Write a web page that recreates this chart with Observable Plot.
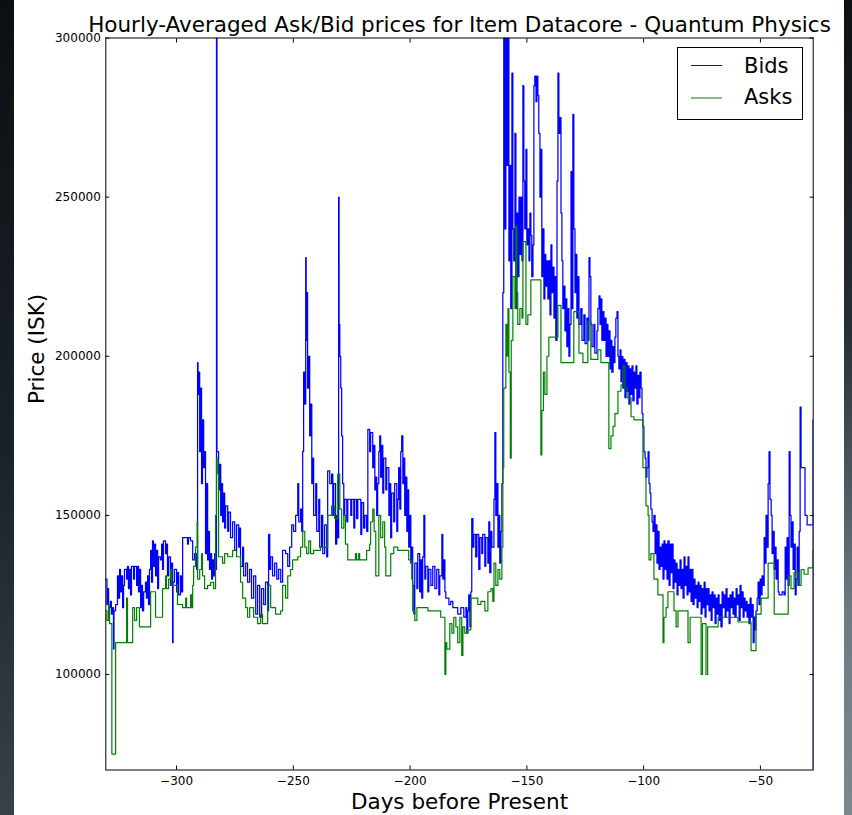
<!DOCTYPE html>
<html><head><meta charset="utf-8">
<script src="https://cdn.jsdelivr.net/npm/d3@7"></script>
<script src="https://cdn.jsdelivr.net/npm/@observablehq/plot@0.6"></script>
<style>
html,body{margin:0;padding:0;width:852px;height:815px;overflow:hidden;background:#101418;font-family:"DejaVu Sans",sans-serif;}
#bgL{position:absolute;left:0;top:0;width:14px;height:815px;background:linear-gradient(#0b0f13,#1a2228 55%,#36414a);}
#bgR{position:absolute;left:844px;top:0;width:8px;height:815px;background:linear-gradient(#0d1115,#262e35 40%,#6e7a82 75%,#7d878e);}
#fig{position:absolute;left:14px;top:0;width:830px;height:815px;background:#fff;}
#chart{position:absolute;left:0;top:0;}
#legend{position:absolute;left:677px;top:47px;}
</style></head>
<body>
<div id="bgL"></div><div id="bgR"></div><div id="fig"></div>
<div id="chart"></div>
<svg id="legend" width="127" height="74"></svg>
<script>
const titleText = "Hourly-Averaged Ask/Bid prices for Item Datacore - Quantum Physics";
const xLabel = "Days before Present";
const yLabel = "Price (ISK)";
const seriesNames = ["Bids", "Asks"];
const seriesColors = ["#0000ff", "#008000"];
const xTicks = [-300, -250, -200, -150, -100, -50];
const yTicks = [100000, 150000, 200000, 250000, 300000];
const xDomain = [-330.3, -27.4];
const yDomain = [70000, 300000];

// [day, price]
const bids = [
[-330.2,130000],[-329.8,122000],[-329.6,127000],[-329.1,121000],[-328.3,123000],[-327.9,119000],[-327.4,121000],[-327.0,108000],[-326.8,120000],[-326.1,122000],[-325.3,131000],[-324.9,124000],[-324.4,133000],[-324.0,126000],[-323.6,131000],[-323.1,121000],[-322.7,128000],[-322.3,133000],[-321.4,130000],[-321.0,134000],[-320.6,127000],[-320.1,133000],[-319.7,125000],[-319.3,134000],[-318.4,130000],[-318.0,134000],[-317.1,128000],[-316.7,134000],[-316.3,126000],[-315.9,133000],[-315.4,121000],[-315.0,128000],[-314.6,120000],[-314.1,126000],[-313.3,129000],[-312.9,124000],[-312.4,131000],[-312.0,122000],[-311.6,133000],[-311.1,139000],[-310.7,129000],[-310.3,142000],[-309.9,134000],[-309.4,141000],[-309.0,131000],[-308.6,139000],[-308.1,127000],[-307.7,137000],[-306.9,136000],[-306.4,141000],[-306.0,133000],[-305.6,142000],[-304.7,138000],[-304.3,141000],[-303.9,131000],[-303.4,137000],[-302.6,128000],[-302.1,135000],[-301.7,110000],[-301.5,129000],[-300.9,133000],
[-300.0,126000],[-299.6,132000],[-299.1,125000],[-298.3,131000],[-297.9,126000],[-297.4,143000],[-296.1,143000],[-295.3,141000],[-294.9,143000],[-294.0,142000],[-293.1,136000],[-292.3,138000],[-291.4,133000],[-291.0,198000],[-290.8,188000],[-290.6,195000],[-290.1,170000],[-289.7,190000],[-289.3,160000],[-288.9,180000],[-288.4,165000],[-288.0,170000],[-287.6,138000],[-287.1,160000],[-286.7,136000],[-286.3,145000],[-285.9,133000],[-285.4,138000],[-285.0,130000],[-284.6,136000],[-284.1,131000],[-283.7,138000],[-283.3,133000],[-282.9,300000],[-282.7,170000],[-282.0,158000],[-281.6,166000],[-281.1,150000],[-280.7,160000],[-280.3,148000],[-279.9,157000],[-279.4,146000],[-279.0,153000],[-278.1,145000],[-277.7,151000],[-276.9,143000],[-276.0,148000],[-275.1,139000],[-274.3,147000],[-273.4,140000],[-273.0,146000],[-272.6,134000],[-271.7,140000],[-271.3,131000],[-270.4,135000],[-269.6,129000],[-268.7,133000],[-267.9,124000],[-267.0,131000],[-266.1,119000],[-265.3,128000],[-264.4,118000],[-263.6,127000],[-262.7,122000],[-261.9,129000],[-261.0,120000],[-260.6,144000],[-260.1,133000],[-259.7,137000],[-258.9,131000],[-258.0,135000],[-257.1,130000],[-256.3,133000],[-255.4,129000],[-254.6,139000],[-253.3,138000],[-252.4,134000],[-251.6,140000],[-250.7,147000],[-249.9,145000],[-249.0,150000],[-248.1,160000],[-247.7,148000],[-246.9,152000],[-246.4,145000],[-246.0,170000],[-245.6,195000],[-245.1,185000],[-244.7,231000],[-244.5,205000],[-244.3,220000],[-243.9,190000],[-243.4,200000],[-243.0,175000],[-242.6,185000],[-242.1,160000],[-241.7,168000],[-241.3,150000],[-240.4,160000],[-240.0,145000],[-239.1,155000],[-238.7,140000],[-237.9,150000],[-237.4,138000],[-236.6,147000],[-235.7,137000],[-235.3,164000],[-234.4,160000],[-233.6,163000],[-233.1,150000],[-232.7,160000],[-231.9,141000],[-231.4,150000],[-231.0,143000],[-230.6,250000],[-230.4,210000],[-230.1,200000],[-229.7,190000],[-229.3,175000],[-228.9,160000],[-228.4,150000],[-228.0,155000],[-227.1,148000],[-226.7,155000],[-225.4,150000],[-225.0,155000],[-224.1,146000],[-223.7,155000],[-222.9,149000],[-222.4,155000],[-221.1,144000],[-220.7,154000],[-219.9,146000],[-219.4,150000],[-218.6,145000],[-218.1,177000],[-217.3,170000],[-216.9,176000],[-216.0,165000],[-215.6,172000],[-215.1,158000],[-214.7,162000],[-214.3,150000],[-213.9,160000],[-213.4,170000],[-213.0,175000],[-212.6,162000],[-212.1,172000],[-211.7,157000],[-211.3,168000],[-210.4,158000],[-210.0,165000],[-209.1,150000],[-208.7,160000],[-208.3,143000],[-207.9,157000],[-207.0,148000],[-206.6,160000],[-205.7,145000],[-205.3,155000],[-204.9,165000],[-204.4,152000],[-204.0,170000],[-203.6,175000],[-203.1,160000],[-202.7,168000],[-202.3,150000],[-201.9,162000],[-201.4,145000],[-201.0,158000],[-200.6,140000],[-200.1,150000],[-199.7,135000],[-199.3,140000],[-198.9,128000],[-198.4,119000],[-198.0,135000],[-197.1,127000],[-196.7,138000],[-195.9,126000],[-195.4,136000],[-195.0,124000],[-194.6,137000],[-194.1,150000],[-193.7,130000],[-193.3,134000],[-192.4,126000],[-192.0,133000],[-191.1,128000],[-190.3,134000],[-189.4,127000],[-188.6,133000],[-187.7,125000],[-187.3,131000],[-186.4,144000],[-186.0,130000],[-185.6,136000],[-185.1,126000],[-184.7,124000],[-183.4,122000],[-182.6,123000],[-181.7,121000],[-180.4,121000],[-179.6,119000],[-178.3,121000],[-177.0,118000],[-176.1,121000],[-175.7,113000],[-175.3,120000],[-174.9,125000],[-174.4,115000],[-174.0,126000],[-173.6,149000],[-173.1,140000],[-172.7,144000],[-171.9,137000],[-171.4,144000],[-170.6,133000],[-170.1,143000],[-169.3,138000],[-168.9,144000],[-168.0,134000],[-167.6,143000],[-166.7,135000],[-166.3,148000],[-165.9,132000],[-165.4,145000],[-165.0,140000],[-164.1,155000],[-163.7,176000],[-163.3,150000],[-162.9,160000],[-162.4,140000],[-162.0,150000],[-161.6,135000],[-161.1,145000],[-160.7,160000],[-160.3,220000],[-159.9,300000],[-159.4,240000],[-159.0,300000],[-158.6,260000],[-158.1,300000],[-157.7,230000],[-157.3,260000],[-156.9,215000],[-156.4,289000],[-156.0,240000],[-155.6,230000],[-155.1,270000],[-154.7,215000],[-154.3,245000],[-153.9,225000],[-153.4,250000],[-153.0,232000],[-152.6,250000],[-152.1,230000],[-151.7,285000],[-151.3,255000],[-150.9,240000],[-150.4,265000],[-150.0,235000],[-149.6,240000],[-149.1,230000],[-148.7,245000],[-148.3,238000],[-147.9,225000],[-147.4,235000],[-147.0,285000],[-146.6,288000],[-146.1,280000],[-145.7,288000],[-145.3,282000],[-144.9,270000],[-144.4,250000],[-144.0,265000],[-143.6,225000],[-143.1,240000],[-142.7,218000],[-142.3,232000],[-141.9,222000],[-141.4,230000],[-141.0,218000],[-140.6,230000],[-140.1,213000],[-139.7,235000],[-139.3,220000],[-138.9,228000],[-138.4,212000],[-138.0,225000],[-137.6,205000],[-137.1,255000],[-136.7,289000],[-136.3,270000],[-135.9,275000],[-135.4,245000],[-135.0,230000],[-134.6,215000],[-134.1,222000],[-133.7,208000],[-133.3,218000],[-132.9,203000],[-132.4,215000],[-132.0,200000],[-131.6,210000],[-131.1,258000],[-130.7,215000],[-130.3,276000],[-129.9,240000],[-129.4,220000],[-129.0,232000],[-128.6,212000],[-128.1,225000],[-127.7,210000],[-126.9,215000],[-126.4,205000],[-125.6,213000],[-125.1,204000],[-124.3,212000],[-123.9,205000],[-123.4,231000],[-123.0,225000],[-122.6,210000],[-122.1,203000],[-121.3,210000],[-120.9,201000],[-120.0,208000],[-119.6,215000],[-119.1,219000],[-118.7,210000],[-118.3,218000],[-117.9,205000],[-117.4,214000],[-117.0,205000],[-116.6,212000],[-116.1,200000],[-115.7,210000],[-115.3,200000],[-114.9,208000],[-114.4,196000],[-114.0,205000],[-113.6,195000],[-113.1,203000],[-112.7,198000],[-112.3,206000],[-111.9,212000],[-111.4,214000],[-111.0,200000],[-110.6,196000],[-110.1,202000],[-109.7,192000],[-109.3,200000],[-108.9,190000],[-108.4,199000],[-108.0,187000],[-107.6,198000],[-107.1,189000],[-106.7,197000],[-106.3,185000],[-105.9,196000],[-105.4,188000],[-105.0,197000],[-104.6,186000],[-104.1,195000],[-103.7,190000],[-103.3,197000],[-102.9,185000],[-102.4,194000],[-102.0,187000],[-101.6,195000],[-101.1,190000],[-100.7,182000],[-100.3,178000],[-99.9,170000],[-99.4,168000],[-99.0,162000],[-98.6,165000],[-98.1,170000],[-97.7,160000],[-97.3,157000],[-96.9,152000],[-96.4,148000],[-96.0,145000],[-95.6,150000],[-95.1,138000],[-94.7,147000],[-94.3,135000],[-93.9,145000],[-93.4,133000],[-93.0,140000],[-92.6,134000],[-92.1,141000],[-91.7,130000],[-91.3,142000],[-90.9,133000],[-90.4,141000],[-90.0,130000],[-89.6,142000],[-89.1,128000],[-88.7,141000],[-88.3,132000],[-87.9,141000],[-87.4,127000],[-87.0,136000],[-86.6,129000],[-86.1,135000],[-85.7,125000],[-85.3,133000],[-84.9,128000],[-84.4,136000],[-84.0,127000],[-83.6,133000],[-83.1,124000],[-82.7,137000],[-82.3,128000],[-81.9,134000],[-81.4,125000],[-81.0,137000],[-80.6,126000],[-80.1,133000],[-79.7,123000],[-79.3,133000],[-78.9,122000],[-78.4,130000],[-78.0,124000],[-77.6,128000],[-77.1,121000],[-76.7,129000],[-76.3,123000],[-75.9,128000],[-75.4,119000],[-75.0,127000],[-74.6,121000],[-74.1,129000],[-73.7,118000],[-73.3,127000],[-72.9,122000],[-72.4,127000],[-72.0,120000],[-71.6,125000],[-71.1,117000],[-70.7,126000],[-70.3,121000],[-69.9,125000],[-69.4,116000],[-69.0,124000],[-68.6,119000],[-68.1,125000],[-67.7,117000],[-67.3,122000],[-66.9,115000],[-66.4,126000],[-66.0,121000],[-65.6,125000],[-65.1,118000],[-64.7,127000],[-64.3,120000],[-63.9,124000],[-63.4,116000],[-63.0,125000],[-62.6,121000],[-62.1,126000],[-61.7,119000],[-61.3,124000],[-60.9,118000],[-60.4,127000],[-60.0,122000],[-59.6,125000],[-59.1,117000],[-58.7,128000],[-58.3,121000],[-57.9,126000],[-57.4,118000],[-57.0,124000],[-56.6,120000],[-56.1,123000],[-55.7,118000],[-55.3,122000],[-54.9,116000],[-54.4,124000],[-54.0,118000],[-53.6,122000],[-53.1,110000],[-52.7,118000],[-52.3,114000],[-51.9,120000],[-51.4,124000],[-51.0,129000],[-50.6,122000],[-50.1,130000],[-49.7,125000],[-49.3,131000],[-48.9,128000],[-48.4,143000],[-48.0,135000],[-47.6,150000],[-47.1,140000],[-46.7,160000],[-46.3,170000],[-45.9,155000],[-45.4,150000],[-45.0,138000],[-44.6,145000],[-44.1,133000],[-43.7,140000],[-43.3,130000],[-42.9,136000],[-42.4,126000],[-42.0,125000],[-40.7,126000],[-39.9,125000],[-39.4,140000],[-39.0,130000],[-38.6,143000],[-38.1,128000],[-37.7,170000],[-37.3,150000],[-36.9,140000],[-36.4,148000],[-36.0,133000],[-35.6,141000],[-35.1,125000],[-34.7,130000],[-34.3,140000],[-33.9,128000],[-33.4,145000],[-33.0,184000],[-32.6,165000],[-31.3,165000],[-30.9,150000],[-30.0,147000],[-27.6,180000],[-27.45,60000]
];

const asks = [
[-330.2,120000],[-329.8,117000],[-329.1,122000],[-328.7,116000],[-327.7,75000],[-326.1,110000],[-321.4,124000],[-321.0,110000],[-318.8,121000],[-318.0,117000],[-317.1,121000],[-315.9,115000],[-311.1,126000],[-309.0,118000],[-306.0,127000],[-304.7,131000],[-304.3,127000],[-303.4,130000],[-302.6,133000],[-302.1,128000],[-299.6,122000],[-297.4,121000],[-296.1,124000],[-295.7,121000],[-294.0,125000],[-293.6,121000],[-293.1,128000],[-292.7,134000],[-291.9,140000],[-291.2,148000],[-291.0,130000],[-290.1,133000],[-289.3,138000],[-288.9,131000],[-288.0,127000],[-286.7,128000],[-285.4,129000],[-284.1,127000],[-283.3,150000],[-282.9,168000],[-282.3,163000],[-282.0,137000],[-280.3,135000],[-279.4,138000],[-278.1,137000],[-276.0,139000],[-274.3,137000],[-272.6,129000],[-271.7,124000],[-270.4,121000],[-269.6,118000],[-268.7,121000],[-267.0,118000],[-265.3,116000],[-264.0,119000],[-263.2,116000],[-261.0,128000],[-259.7,121000],[-257.6,119000],[-255.4,120000],[-254.6,128000],[-253.3,124000],[-252.4,131000],[-251.2,133000],[-250.3,136000],[-248.1,137000],[-246.9,140000],[-246.0,145000],[-245.1,140000],[-244.3,138000],[-243.4,142000],[-242.6,138000],[-241.3,139000],[-238.4,140000],[-235.3,150000],[-233.6,153000],[-232.3,149000],[-231.0,163000],[-230.1,152000],[-229.3,146000],[-228.4,150000],[-227.7,141000],[-226.7,136000],[-223.4,138000],[-222.9,136000],[-222.0,138000],[-221.6,136000],[-218.6,139000],[-217.3,141000],[-216.9,148000],[-216.0,152000],[-215.4,145000],[-214.7,131000],[-213.4,150000],[-212.6,143000],[-211.7,148000],[-210.9,140000],[-210.4,131000],[-208.3,138000],[-207.0,140000],[-205.3,139000],[-200.6,136000],[-199.3,130000],[-198.9,120000],[-198.0,117000],[-197.1,121000],[-192.4,120000],[-186.9,118000],[-185.1,100000],[-184.7,110000],[-184.3,108000],[-183.0,116000],[-182.1,113000],[-181.3,118000],[-180.4,115000],[-179.6,110000],[-178.7,118000],[-177.9,106000],[-177.4,115000],[-176.6,113000],[-175.3,114000],[-174.0,124000],[-171.0,122000],[-169.7,123000],[-168.0,120000],[-166.7,126000],[-165.4,127000],[-164.6,123000],[-164.1,135000],[-163.3,128000],[-162.4,133000],[-161.6,130000],[-160.7,140000],[-160.3,165000],[-159.9,190000],[-159.0,210000],[-158.6,200000],[-158.1,215000],[-157.7,195000],[-157.1,168000],[-156.7,205000],[-156.0,225000],[-155.1,215000],[-154.7,241000],[-154.3,220000],[-153.9,210000],[-153.0,215000],[-152.1,212000],[-151.7,236000],[-150.4,210000],[-149.6,213000],[-148.3,224000],[-144.0,169000],[-143.6,183000],[-142.9,195000],[-142.3,188000],[-141.4,200000],[-140.6,206000],[-136.7,216000],[-135.4,198000],[-129.9,214000],[-127.7,201000],[-126.0,198000],[-123.9,211000],[-122.6,199000],[-119.6,202000],[-118.3,198000],[-114.9,171000],[-114.0,175000],[-113.1,178000],[-112.3,182000],[-111.0,189000],[-109.7,191000],[-108.9,197000],[-108.0,190000],[-107.1,187000],[-105.4,181000],[-104.1,180000],[-100.3,165000],[-99.0,153000],[-98.1,150000],[-97.7,136000],[-96.9,138000],[-95.6,130000],[-93.9,125000],[-91.7,110000],[-91.3,118000],[-90.4,121000],[-89.6,126000],[-87.0,120000],[-86.1,115000],[-85.3,120000],[-81.0,110000],[-80.1,118000],[-75.4,100000],[-74.8,116000],[-73.3,100000],[-72.6,115000],[-68.1,118000],[-59.6,116500],[-54.0,107500],[-51.9,119000],[-49.7,124000],[-46.7,135000],[-44.1,119000],[-38.1,131000],[-36.9,127000],[-35.6,132000],[-33.9,128000],[-32.6,133000],[-31.3,131500],[-29.6,133500],[-27.6,139000],[-27.4,139000]
];

const fmtY = d => String(d);
const fmtX = d3.format("d");

const chart = Plot.plot({
  width: 852, height: 815,
  marginLeft: 105.3, marginRight: 39.3, marginTop: 37.5, marginBottom: 45.5,
  x: {domain: xDomain},
  y: {domain: yDomain},
  style: {background: "transparent", color: "#000", fontFamily: "'DejaVu Sans', sans-serif", overflow: "visible"},
  marks: [
    Plot.line(bids, {x: d => d[0], y: d => d[1], stroke: seriesColors[0], strokeWidth: 1.25, curve: "step-after", clip: true}),
    Plot.line(asks, {x: d => d[0], y: d => d[1], stroke: seriesColors[1], strokeWidth: 1.2, curve: "step-after", clip: true}),
    Plot.frame({stroke: "#000", strokeWidth: 1}),
    Plot.axisX({anchor: "bottom", ticks: xTicks, tickSize: 0, tickPadding: 6, tickFormat: fmtX, fontSize: 12, label: null}),
    Plot.axisX({anchor: "bottom", ticks: xTicks, tickSize: -4, tickFormat: () => "", label: null}),
    Plot.axisX({anchor: "top", ticks: xTicks, tickSize: -4, tickFormat: () => "", label: null}),
    Plot.axisY({anchor: "left", ticks: yTicks, tickSize: 0, tickPadding: 5, tickFormat: fmtY, fontSize: 12, label: null}),
    Plot.axisY({anchor: "left", ticks: yTicks, tickSize: -4, tickFormat: () => "", label: null}),
    Plot.axisY({anchor: "right", ticks: yTicks, tickSize: -4, tickFormat: () => "", label: null}),
    Plot.text([titleText], {frameAnchor: "top", dy: -6, lineAnchor: "bottom", fontSize: 21.5}),
    Plot.text([xLabel], {frameAnchor: "bottom", dy: 39, lineAnchor: "bottom", fontSize: 21.5}),
    Plot.text([yLabel], {frameAnchor: "left", dx: -62.3, rotate: -90, lineAnchor: "bottom", fontSize: 21.5})
  ]
});
document.getElementById("chart").appendChild(chart);

// legend
const lg = d3.select("#legend");
lg.append("rect").attr("x", 0.5).attr("y", 0.5).attr("width", 125).attr("height", 72)
  .attr("fill", "#fff").attr("stroke", "#000").attr("stroke-width", 1);
const rowsY = [18.5, 51];
const textY = [25.7, 57];
seriesNames.forEach((name, i) => {
  lg.append("line").attr("x1", 14).attr("x2", 45).attr("y1", rowsY[i]).attr("y2", rowsY[i])
    .attr("stroke", seriesColors[i]).attr("stroke-width", 1);
  lg.append("text").attr("x", 67).attr("y", textY[i]).attr("font-size", 21)
    .attr("font-family", "'DejaVu Sans', sans-serif").attr("fill", "#000").text(name);
});
</script>
</body></html>
